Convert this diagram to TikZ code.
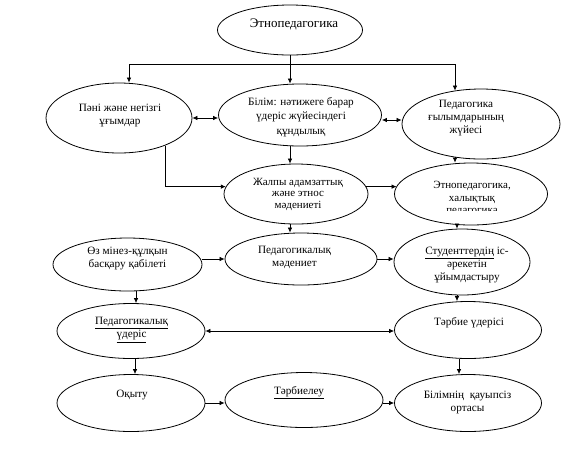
\documentclass[tikz,border=0pt]{standalone}
\usepackage{fontspec}
\setmainfont{Liberation Serif}
\usetikzlibrary{arrows.meta,calc,shapes.geometric}
\begin{document}
\begin{tikzpicture}[x=1pt,y=-1pt,
 ell/.style={draw=black, line width=0.8pt, ellipse, inner sep=0pt},
 txt/.style={align=center, font=\fontsize{11.2}{13}\selectfont, inner sep=0pt},
 arr/.style={draw=black, line width=0.7pt, -{Latex[length=5pt,width=4.5pt]}},
 darr/.style={draw=black, line width=0.7pt, {Latex[length=5pt,width=4.5pt]}-{Latex[length=5pt,width=4.5pt]}},
 ln/.style={draw=black, line width=0.7pt}]
\useasboundingbox[fill=white] (0,0) rectangle (567,451);
% ellipses
\node[ell, minimum width=145pt, minimum height=50pt] (n1) at (290,30) {};
\node[ell, minimum width=146pt, minimum height=70pt] (n2) at (119,118) {};
\node[ell, minimum width=163pt, minimum height=62pt] (n3) at (300,115) {};
\node[ell, minimum width=158pt, minimum height=70pt] (n4) at (481,124) {};
\node[ell, minimum width=144pt, minimum height=60pt] (n5) at (296,194) {};
\node[ell, minimum width=153pt, minimum height=62pt] (n6) at (471,194) {};
\node[ell, minimum width=149pt, minimum height=53pt] (n7) at (127.5,264.5) {};
\node[ell, minimum width=152pt, minimum height=52pt] (n8) at (301,259) {};
\node[ell, minimum width=136pt, minimum height=66pt] (n9) at (462,262) {};
\node[ell, minimum width=148pt, minimum height=55pt] (n10) at (131,331) {};
\node[ell, minimum width=147pt, minimum height=57pt] (n11) at (468,330) {};
\node[ell, minimum width=148pt, minimum height=57pt] (n12) at (131,403) {};
\node[ell, minimum width=158pt, minimum height=55pt] (n13) at (304,400) {};
\node[ell, minimum width=147pt, minimum height=57pt] (n14) at (468,403) {};
% texts
\node[txt, font=\fontsize{13}{15}\selectfont] (t1) at (294,24) {Этнопедагогика};
\node[txt] (t2) at (120,115) {Пәні және негізгі\\ұғымдар};
\node[txt, font=\fontsize{11.2}{14.5}\selectfont] (t3) at (301,117) {Білім: нәтижеге барар\\үдеріс жүйесіндегі\\құндылық};
\node[txt] (t4) at (466,118) {Педагогика\\ғылымдарының\\жүйесі};
\node[txt, font=\fontsize{11}{11.5}\selectfont] (t5) at (298,194) {Жалпы адамзаттық\\және этнос\\мәдениеті};
\begin{scope}
\clip (390,150) rectangle (550,210.5);
\node[txt, font=\fontsize{11}{12.5}\selectfont] (t6) at (472,198.5) {Этнопедагогика,\\халықтық\\педагогика};
\end{scope}
\node[txt] (t7) at (127.5,258) {Өз мінез-құлқын\\басқару қабілеті};
\node[txt] (t8) at (294.5,257) {Педагогикалық\\мәдениет};
\node[txt] (t9) at (467,265) {\underline{Студенттердің} іс-\\әрекетін\\ұйымдастыру};
\node[txt] (t10) at (131.5,330) {\underline{Педагогикалық}\\\underline{үдеріс}};
\node[txt] (t11) at (469,323) {Тәрбие үдерісі};
\node[txt] (t12) at (132,395) {Оқыту};
\node[txt] (t13) at (299,393) {\underline{Тәрбиелеу}};
\node[txt] (t14) at (467.5,402) {Білімнің\ \ қауыпсіз\\ортасы};
% helper coordinates
\coordinate (hub) at (290,64);
\coordinate (hl) at (129,64);
\coordinate (hr) at (455,64);
\coordinate (cC) at (457,0);
\coordinate (cD) at (136,0);
\coordinate (cE) at (135,0);
\coordinate (cG) at (459,0);
\coordinate (m34) at ($(n3.east)+(0,5)$);
% connectors
\draw[ln] (n1.south) -- (hub);
\draw[ln] (hl) -- (hr);
\draw[arr] (hl) -- (hl |- n2.north);
\draw[arr] (hub) -- (hub |- n3.north);
\draw[arr] (hr) -- (hr |- n4.128);
\draw[darr] (n2.east) -- (n2.east -| n3.west);
\draw[darr] (m34) -- (m34 -| n4.west);
\draw[arr] (hub |- n3.south) -- (hub |- n5.north);
\draw[arr] (hr |- n4.-128) -- (hr |- n6.north);
\draw[arr] (n2.-31) |- (n5.174);
\draw[arr] (n5.6) -- (n5.6 -| n6.174);
\draw[arr] (hub |- n5.south) -- (hub |- n8.north);
\draw[arr] (cC |- n6.south) -- (cC |- n9.north);
\draw[arr] (n7.east |- n8.west) -- (n8.west);
\draw[arr] (n8.east) -- (n8.east -| n9.west);
\draw[arr] (cD |- n7.south) -- (cD |- n10.north);
\draw[arr] (cC |- n9.south) -- (cC |- n11.north);
\draw[darr] (n10.east) -- (n10.east -| n11.west);
\draw[arr] (cE |- n10.south) -- (cE |- n12.north);
\draw[arr] (cG |- n11.south) -- (cG |- n14.north);
\draw[arr] (n12.east) -- (n12.east -| n13.west);
\draw[arr] (n13.east |- n14.west) -- (n14.west);
\end{tikzpicture}
\end{document}
